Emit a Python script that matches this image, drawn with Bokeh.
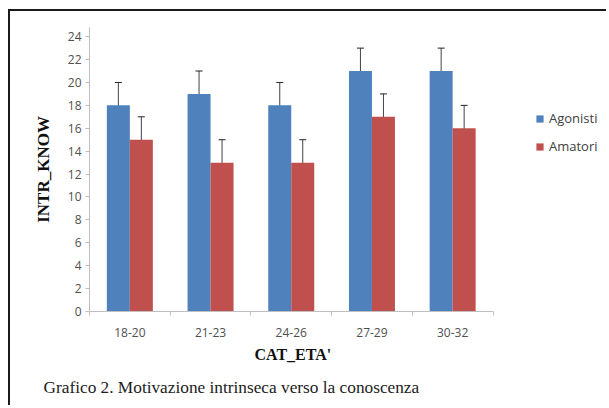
from bokeh.plotting import figure
from bokeh.models import (ColumnDataSource, Whisker, FixedTicker, Legend, LegendItem,
                          Title)
from bokeh.embed import file_html
from bokeh.resources import INLINE

# ---- data ----
categories = ["18-20", "21-23", "24-26", "27-29", "30-32"]
agonisti = [18, 19, 18, 21, 21]
agonisti_err = [2, 2, 2, 2, 2]
amatori = [15, 13, 13, 17, 16]
amatori_err = [2, 2, 2, 2, 2]
y_ticks = [0, 2, 4, 6, 8, 10, 12, 14, 16, 18, 20, 22, 24]
series_names = ["Agonisti", "Amatori"]
y_title = "INTR_KNOW"
x_title = "CAT_ETA'"
caption = "Grafico 2. Motivazione intrinseca verso la conoscenza"

BLUE = "#4F81BD"
RED = "#C0504D"
BW = 0.285

n = len(categories)
centers = [i + 0.5 for i in range(n)]

src_a = ColumnDataSource(dict(
    x=[c - BW / 2 for c in centers], top=agonisti,
    lo=[v - e for v, e in zip(agonisti, agonisti_err)],
    hi=[v + e for v, e in zip(agonisti, agonisti_err)]))
src_m = ColumnDataSource(dict(
    x=[c + BW / 2 for c in centers], top=amatori,
    lo=[v - e for v, e in zip(amatori, amatori_err)],
    hi=[v + e for v, e in zip(amatori, amatori_err)]))

W, H = 598, 396
MB_L, MB_T, MB_B = 79, 16, 96
# frame spans past the axis to hold the legend; the axis itself is bounded to the categories
AXIS_PX = 403.5
FRAME_PX = W - MB_L
x_end = n * FRAME_PX / AXIS_PX

p = figure(width=W, height=H, x_range=(0, x_end), y_range=(0, 24.8),
           output_backend="svg", toolbar_location=None,
           min_border_left=MB_L, min_border_top=MB_T, min_border_right=0,
           min_border_bottom=MB_B)
p.styles = {"margin-left": "8px", "margin-top": "9px",
            "border-top": "2px solid #1a1a1a", "border-left": "2px solid #1a1a1a"}
p.outline_line_color = None
p.background_fill_color = "white"
p.border_fill_color = "white"
p.xgrid.visible = False
p.ygrid.visible = False

r_a = p.vbar(x="x", top="top", width=BW, bottom=0, source=src_a,
             fill_color=BLUE, line_color=None)
r_m = p.vbar(x="x", top="top", width=BW, bottom=0, source=src_m,
             fill_color=RED, line_color=None)

for src in (src_a, src_m):
    w = Whisker(base="x", lower="lo", upper="hi", source=src,
                line_color="#222222", line_width=1, line_alpha=0.85)
    w.upper_head.size = 7
    w.lower_head.size = 7
    w.upper_head.line_color = "#222222"
    w.lower_head.line_color = "#222222"
    p.add_layout(w)

# y axis
p.yaxis.ticker = FixedTicker(ticks=y_ticks)
p.yaxis.axis_line_color = "#bfbfbf"
p.yaxis.major_tick_line_color = "#bfbfbf"
p.yaxis.major_tick_out = 4
p.yaxis.major_tick_in = 0
p.yaxis.minor_tick_line_color = None
p.yaxis.major_label_text_font = "Open Sans"
p.yaxis.major_label_text_font_size = "12px"
p.yaxis.major_label_text_color = "#505050"
p.yaxis.major_label_standoff = 4
p.yaxis.axis_label = y_title
p.yaxis.axis_label_text_font = "Liberation Serif"
p.yaxis.axis_label_text_font_style = "bold"
p.yaxis.axis_label_text_font_size = "17px"
p.yaxis.axis_label_text_color = "#111111"
p.yaxis.axis_label_standoff = 12

# x axis
p.xaxis.bounds = (0, n)
p.xaxis.ticker = FixedTicker(ticks=centers, minor_ticks=list(range(n + 1)))
p.xaxis.major_label_overrides = {c: lab for c, lab in zip(centers, categories)}
p.xaxis.axis_line_color = "#bfbfbf"
p.xaxis.major_tick_line_color = None
p.xaxis.major_tick_out = 0
p.xaxis.major_tick_in = 0
p.xaxis.minor_tick_line_color = "#bfbfbf"
p.xaxis.minor_tick_out = 4
p.xaxis.minor_tick_in = 0
p.xaxis.major_label_text_font = "Open Sans"
p.xaxis.major_label_text_font_size = "12px"
p.xaxis.major_label_text_color = "#505050"
p.xaxis.major_label_standoff = 12

# x-axis title, centred under the category axis
xt = Title(text=x_title, align="left", offset=165, standoff=9,
           text_font="Liberation Serif", text_font_style="bold",
           text_font_size="16px", text_color="#111111")
p.add_layout(xt, "below")

legend = Legend(items=[LegendItem(label=series_names[0], renderers=[r_a]),
                       LegendItem(label=series_names[1], renderers=[r_m])],
                location=(446, 156), padding=0, margin=0, spacing=10,
                glyph_width=9, glyph_height=9, label_height=16, label_standoff=5,
                label_text_font="Open Sans", label_text_font_size="13px",
                label_text_color="#404040",
                background_fill_alpha=0, border_line_color=None)
p.add_layout(legend, "center")

cap = Title(text=caption, align="left", offset=-46, standoff=17,
            text_font="Liberation Serif", text_font_style="normal",
            text_font_size="17.3px", text_color="#222222")
p.add_layout(cap, "below")

open("out.html", "w").write(file_html(p, INLINE))
